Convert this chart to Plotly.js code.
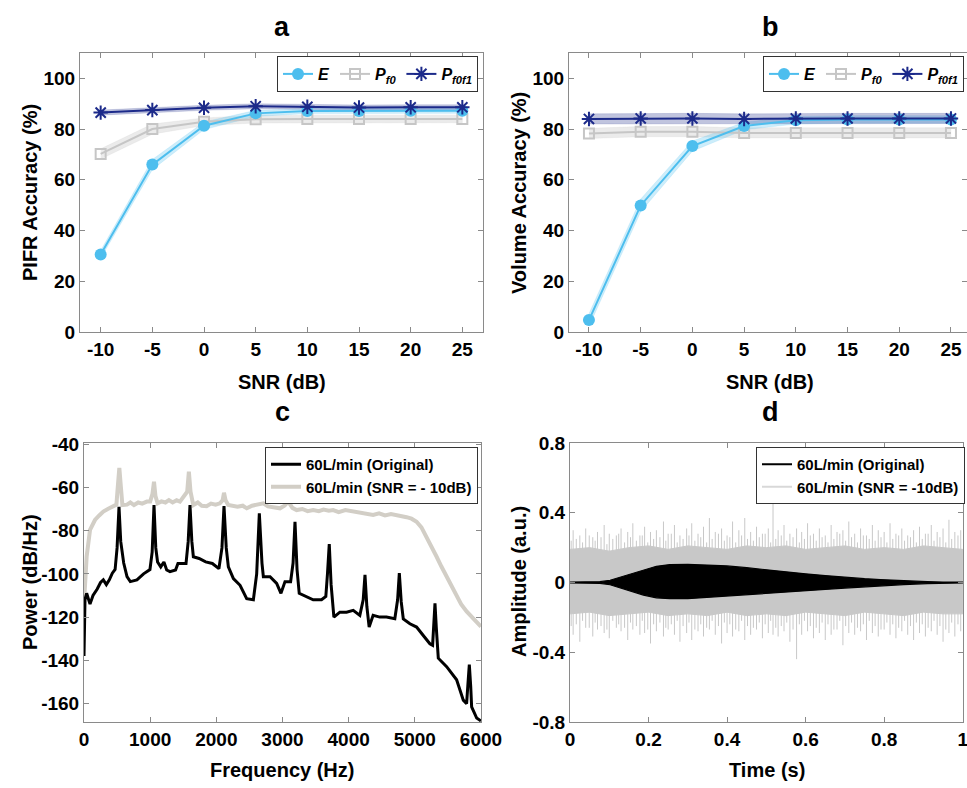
<!DOCTYPE html>
<html>
<head>
<meta charset="utf-8">
<script src="https://cdn.plot.ly/plotly-3.0.1.min.js"></script>
<style>html,body{margin:0;padding:0;background:#fff;}#chart{width:967px;height:788px;}</style>
</head>
<body>
<div id="chart"></div>
<script>
// ---------- Panel a / b data ----------
const snr = [-10, -5, 0, 5, 10, 15, 20, 25];
const snrTickLabels = ['-10', '-5', '0', '5', '10', '15', '20', '25'];
const accTicks = [0, 20, 40, 60, 80, 100];

const pifrE      = [30.6, 66.0, 81.3, 86.2, 87.1, 87.1, 87.2, 87.2];
const pifrEStd   = [1.5, 2.0, 1.5, 1.2, 1.0, 1.0, 1.0, 1.0];
const pifrPf0    = [70.2, 80.0, 82.9, 83.9, 84.0, 84.0, 84.0, 84.0];
const pifrPf0Std = [2.0, 2.0, 1.5, 1.5, 1.5, 1.5, 1.5, 1.5];
const pifrPf0f1  = [86.5, 87.5, 88.4, 89.0, 88.8, 88.5, 88.6, 88.6];
const pifrPf0f1Std = [1.0, 1.0, 1.0, 1.0, 1.0, 1.0, 1.0, 1.0];

const volE      = [4.7, 49.9, 73.3, 81.2, 83.5, 83.8, 83.8, 83.8];
const volEStd   = [2.5, 2.5, 2.0, 1.5, 1.5, 1.5, 1.5, 1.5];
const volPf0    = [78.3, 79.0, 79.0, 78.5, 78.5, 78.5, 78.5, 78.5];
const volPf0Std = [2.0, 2.0, 2.0, 2.0, 2.0, 2.0, 2.0, 2.0];
const volPf0f1  = [84.0, 84.2, 84.2, 84.0, 84.2, 84.2, 84.2, 84.2];
const volPf0f1Std = [2.0, 2.0, 2.0, 2.0, 2.0, 2.0, 2.0, 2.0];

// ---------- Panel c data ----------
const freqOrig = [0, 15, 40, 91, 136, 200, 250, 292, 338, 383, 428, 470, 500, 529, 555, 600, 650, 700, 800, 900, 997, 1030, 1058, 1085, 1112, 1160, 1208, 1250, 1300, 1384, 1420, 1542, 1575, 1602, 1630, 1653, 1740, 1839, 1940, 2039, 2085, 2116, 2150, 2182, 2258, 2359, 2459, 2560, 2610, 2650, 2690, 2711, 2812, 2912, 2977, 3038, 3123, 3160, 3189, 3220, 3253, 3364, 3464, 3590, 3655, 3680, 3707, 3735, 3777, 3867, 3968, 4069, 4169, 4220, 4247, 4275, 4310, 4370, 4471, 4572, 4698, 4740, 4766, 4795, 4826, 4926, 5027, 5128, 5228, 5269, 5290, 5305, 5325, 5355, 5481, 5632, 5733, 5783, 5805, 5824, 5845, 5859, 5935, 6000];
const powerOrig = [-138, -112, -109, -114, -110, -107, -104, -102.8, -105, -102.8, -99.7, -98, -88, -69, -85, -95, -101.3, -103.6, -102.8, -100, -98, -90, -68.2, -88, -94.5, -96.8, -94.5, -98.2, -99, -98.2, -95.2, -95.2, -85, -68.2, -85, -92.1, -92.9, -94.5, -95.2, -97.6, -88, -68.7, -88, -96.8, -102.2, -105.3, -111.5, -112, -100, -72, -95, -101.3, -101.3, -104.4, -109, -103.6, -103.6, -95, -75.9, -98, -109, -110.5, -112, -112, -110.5, -100, -86.2, -105, -120, -117.7, -117.7, -116.9, -119.2, -112, -100.5, -115, -124.6, -119.2, -120, -120, -120.8, -112, -99.7, -113, -120.8, -123.1, -124.6, -128.5, -132.3, -133, -120, -113.6, -125, -139, -142.9, -149, -158.4, -160, -150, -142, -152, -161.5, -166.7, -168];

const freqNoisy = [0, 20, 40, 91, 166, 230, 292, 360, 443, 490, 510, 534, 558, 580, 650, 700, 755, 820, 880, 950, 1000, 1035, 1058, 1080, 1112, 1170, 1230, 1283, 1340, 1400, 1450, 1560, 1585, 1610, 1652, 1720, 1780, 1853, 1920, 1990, 2054, 2095, 2116, 2140, 2180, 2250, 2320, 2400, 2460, 2540, 2620, 2711, 2780, 2860, 2962, 3030, 3088, 3150, 3214, 3300, 3380, 3464, 3550, 3620, 3700, 3766, 3850, 3950, 4069, 4150, 4250, 4370, 4460, 4550, 4640, 4723, 4800, 4876, 4950, 5027, 5100, 5178, 5250, 5330, 5400, 5481, 5560, 5632, 5700, 5783, 5880, 6000];
const powerNoisy = [-113.6, -100, -92, -79.7, -75.1, -73, -71.2, -70, -69, -68, -60, -51, -60, -68.2, -68, -67, -68.2, -67, -67.5, -66.6, -66.6, -63, -57.4, -64, -67.4, -66.5, -67, -65.9, -67, -66, -66.6, -62, -52.8, -62, -68.2, -67, -68.5, -68.7, -67.5, -68, -67.4, -66, -62.5, -66, -68.2, -68.5, -69, -68.5, -69.7, -68.5, -68, -67.4, -68.8, -69, -69.7, -68.5, -66.6, -69.5, -70.5, -70, -71, -70.5, -71, -70.3, -70.8, -70.5, -71.5, -70.5, -71.2, -71.5, -72, -72.8, -72, -73, -72.4, -72.8, -73, -73.8, -74.5, -75.9, -78.5, -82.8, -87, -92.1, -96.5, -101.3, -106, -110.5, -114, -117.4, -120.5, -124.4];

const freqTicks = [0, 1000, 2000, 3000, 4000, 5000, 6000];
const powerTicks = [-160, -140, -120, -100, -80, -60, -40];
const powerTickLabels = ['-160', '-140', '-120', '-100', '-80', '-60', '-40'];

// ---------- Panel d data ----------
const origTime  = [0, 0.05, 0.076, 0.102, 0.144, 0.187, 0.22, 0.254, 0.3, 0.35, 0.4, 0.45, 0.5, 0.55, 0.6, 0.65, 0.7, 0.75, 0.79, 0.85, 0.91, 0.95, 1.0];
const origUpper = [0.003, 0.003, 0.005, 0.013, 0.042, 0.074, 0.093, 0.103, 0.104, 0.1, 0.095, 0.085, 0.072, 0.06, 0.05, 0.04, 0.03, 0.022, 0.017, 0.01, 0.005, 0.003, 0.003];
const origLower = [-0.003, -0.003, -0.005, -0.013, -0.04, -0.072, -0.088, -0.093, -0.093, -0.085, -0.075, -0.07, -0.063, -0.055, -0.047, -0.04, -0.032, -0.025, -0.019, -0.012, -0.006, -0.003, -0.003];

const noiseCoreTime  = [0, 0.05, 0.1, 0.15, 0.2, 0.25, 0.3, 0.35, 0.4, 0.45, 0.5, 0.55, 0.6, 0.65, 0.7, 0.75, 0.8, 0.85, 0.9, 0.95, 1.0];
const noiseCoreUpper = [0.19, 0.2, 0.18, 0.2, 0.21, 0.19, 0.21, 0.2, 0.19, 0.21, 0.2, 0.21, 0.19, 0.2, 0.21, 0.19, 0.2, 0.19, 0.21, 0.2, 0.19];
const noiseCoreLower = [-0.18, -0.17, -0.19, -0.18, -0.17, -0.19, -0.18, -0.19, -0.17, -0.19, -0.18, -0.19, -0.17, -0.18, -0.19, -0.17, -0.18, -0.19, -0.17, -0.18, -0.18];

const spikeTime  = [0.008, 0.025, 0.04, 0.058, 0.07, 0.087, 0.1, 0.118, 0.13, 0.147, 0.16, 0.178, 0.19, 0.205, 0.22, 0.238, 0.25, 0.266, 0.28, 0.297, 0.31, 0.326, 0.34, 0.355, 0.37, 0.386, 0.4, 0.414, 0.43, 0.445, 0.46, 0.475, 0.49, 0.505, 0.517, 0.53, 0.545, 0.56, 0.577, 0.59, 0.605, 0.62, 0.635, 0.65, 0.665, 0.68, 0.695, 0.71, 0.725, 0.74, 0.755, 0.77, 0.785, 0.8, 0.815, 0.83, 0.845, 0.86, 0.875, 0.89, 0.905, 0.92, 0.935, 0.95, 0.965, 0.98, 0.995];
const spikeUpper = [0.30, 0.27, 0.31, 0.26, 0.29, 0.33, 0.28, 0.27, 0.31, 0.29, 0.34, 0.27, 0.32, 0.29, 0.30, 0.35, 0.28, 0.33, 0.27, 0.31, 0.34, 0.28, 0.32, 0.37, 0.29, 0.31, 0.27, 0.35, 0.30, 0.37, 0.29, 0.32, 0.28, 0.31, 0.51, 0.30, 0.33, 0.28, 0.31, 0.29, 0.34, 0.28, 0.31, 0.27, 0.33, 0.29, 0.30, 0.35, 0.28, 0.31, 0.27, 0.33, 0.30, 0.29, 0.34, 0.28, 0.31, 0.27, 0.30, 0.32, 0.28, 0.33, 0.29, 0.31, 0.36, 0.29, 0.30];
const spikeLower = [-0.30, -0.34, -0.26, -0.31, -0.27, -0.29, -0.32, -0.26, -0.28, -0.33, -0.27, -0.30, -0.29, -0.35, -0.28, -0.31, -0.27, -0.30, -0.34, -0.29, -0.33, -0.28, -0.31, -0.27, -0.30, -0.35, -0.29, -0.31, -0.28, -0.33, -0.30, -0.27, -0.32, -0.29, -0.30, -0.31, -0.28, -0.34, -0.44, -0.30, -0.28, -0.32, -0.29, -0.33, -0.30, -0.27, -0.36, -0.29, -0.30, -0.28, -0.33, -0.29, -0.31, -0.27, -0.30, -0.32, -0.28, -0.30, -0.33, -0.29, -0.31, -0.28, -0.30, -0.34, -0.29, -0.31, -0.28];

const spikeTime2  = [0.003, 0.016, 0.032, 0.049, 0.064, 0.079, 0.094, 0.109, 0.124, 0.139, 0.154, 0.169, 0.184, 0.198, 0.213, 0.229, 0.244, 0.258, 0.273, 0.288, 0.303, 0.318, 0.333, 0.348, 0.362, 0.378, 0.393, 0.407, 0.422, 0.437, 0.452, 0.467, 0.482, 0.497, 0.511, 0.524, 0.538, 0.552, 0.568, 0.584, 0.597, 0.612, 0.627, 0.642, 0.657, 0.672, 0.687, 0.702, 0.717, 0.732, 0.747, 0.762, 0.777, 0.792, 0.807, 0.822, 0.837, 0.852, 0.867, 0.882, 0.897, 0.912, 0.927, 0.942, 0.957, 0.972, 0.988];
const spikeUpper2 = [0.24, 0.25, 0.23, 0.27, 0.24, 0.26, 0.22, 0.25, 0.28, 0.23, 0.26, 0.24, 0.27, 0.23, 0.25, 0.26, 0.24, 0.28, 0.23, 0.25, 0.27, 0.24, 0.26, 0.23, 0.25, 0.28, 0.24, 0.26, 0.23, 0.27, 0.25, 0.24, 0.26, 0.28, 0.23, 0.25, 0.27, 0.24, 0.26, 0.23, 0.25, 0.27, 0.24, 0.26, 0.23, 0.25, 0.28, 0.24, 0.26, 0.23, 0.27, 0.25, 0.24, 0.26, 0.23, 0.25, 0.27, 0.24, 0.26, 0.23, 0.25, 0.28, 0.24, 0.26, 0.23, 0.25, 0.27];
const spikeLower2 = [-0.25, -0.24, -0.22, -0.26, -0.23, -0.25, -0.27, -0.22, -0.24, -0.26, -0.23, -0.25, -0.22, -0.27, -0.24, -0.23, -0.26, -0.24, -0.22, -0.25, -0.23, -0.27, -0.24, -0.26, -0.22, -0.25, -0.23, -0.24, -0.27, -0.22, -0.25, -0.26, -0.23, -0.24, -0.22, -0.26, -0.25, -0.23, -0.27, -0.24, -0.22, -0.25, -0.26, -0.23, -0.24, -0.27, -0.22, -0.25, -0.23, -0.26, -0.24, -0.22, -0.25, -0.27, -0.23, -0.24, -0.26, -0.22, -0.25, -0.23, -0.24, -0.26, -0.22, -0.25, -0.27, -0.23, -0.24];

const timeTicks = [0, 0.2, 0.4, 0.6, 0.8, 1];
const timeTickLabels = ['0', '0.2', '0.4', '0.6', '0.8', '1'];
const ampTicks = [-0.8, -0.4, 0, 0.4, 0.8];
const ampTickLabels = ['-0.8', '-0.4', '0', '0.4', '0.8'];

// ---------- Styles ----------
const FONT = 'Liberation Sans, Arial, sans-serif';
const cE = '#4dbeee', cP0 = '#c6c6c6', cP01 = '#1c2a8a';
const bandE = 'rgba(77,190,238,0.28)', bandP0 = 'rgba(198,198,198,0.35)', bandP01 = 'rgba(28,42,138,0.28)';
const cOrig = '#000000', cNoisySpec = '#d2cec6', cNoise = '#c8c8c8';

function band(x, m, s, xa, ya, fc) {
  const up = m.map((v, i) => v + s[i]);
  const lo = m.map((v, i) => v - s[i]);
  return {x: x.concat(x.slice().reverse()), y: up.concat(lo.slice().reverse()),
    xaxis: xa, yaxis: ya, type: 'scatter', mode: 'lines', fill: 'toself',
    fillcolor: fc, line: {width: 0.5, color: fc}, showlegend: false, hoverinfo: 'skip'};
}
function series(x, y, name, color, sym, size, xa, ya, lg, filled) {
  return {x: x, y: y, name: name, xaxis: xa, yaxis: ya, type: 'scatter', mode: 'lines+markers',
    line: {color: color, width: 2},
    marker: {symbol: sym, size: size, color: color, line: {color: color, width: filled ? 0 : 2}},
    legend: lg};
}
function spikes(t, up, lo) {
  const sx = [], sy = [];
  const n = Math.min(t.length, up.length, lo.length);
  for (let i = 0; i < n; i++) { sx.push(t[i], t[i], null); sy.push(lo[i], up[i], null); }
  return {x: sx, y: sy, xaxis: 'x4', yaxis: 'y4', type: 'scatter', mode: 'lines',
    line: {color: cNoise, width: 1}, showlegend: false, hoverinfo: 'skip'};
}

const traces = [];
// Panel a
traces.push(band(snr, pifrPf0, pifrPf0Std, 'x', 'y', bandP0));
traces.push(band(snr, pifrE, pifrEStd, 'x', 'y', bandE));
traces.push(band(snr, pifrPf0f1, pifrPf0f1Std, 'x', 'y', bandP01));
traces.push(Object.assign(series(snr, pifrPf0, '<b><i>P<sub>f0</sub></i></b>', cP0, 'square-open', 10, 'x', 'y', 'legend', false), {legendrank: 2}));
traces.push(Object.assign(series(snr, pifrE, '<b><i>E</i></b>', cE, 'circle', 12, 'x', 'y', 'legend', true), {legendrank: 1}));
traces.push(Object.assign(series(snr, pifrPf0f1, '<b><i>P<sub>f0f1</sub></i></b>', cP01, 'asterisk-open', 12, 'x', 'y', 'legend', false), {legendrank: 3}));
// Panel b
traces.push(band(snr, volPf0, volPf0Std, 'x2', 'y2', bandP0));
traces.push(band(snr, volE, volEStd, 'x2', 'y2', bandE));
traces.push(band(snr, volPf0f1, volPf0f1Std, 'x2', 'y2', bandP01));
traces.push(Object.assign(series(snr, volPf0, '<b><i>P<sub>f0</sub></i></b>', cP0, 'square-open', 10, 'x2', 'y2', 'legend2', false), {legendrank: 2}));
traces.push(Object.assign(series(snr, volE, '<b><i>E</i></b>', cE, 'circle', 12, 'x2', 'y2', 'legend2', true), {legendrank: 1}));
traces.push(Object.assign(series(snr, volPf0f1, '<b><i>P<sub>f0f1</sub></i></b>', cP01, 'asterisk-open', 12, 'x2', 'y2', 'legend2', false), {legendrank: 3}));
// Panel c
traces.push({x: freqNoisy, y: powerNoisy, xaxis: 'x3', yaxis: 'y3', type: 'scatter', mode: 'lines',
  name: '<b>60L/min (SNR = - 10dB)</b>', line: {color: cNoisySpec, width: 4}, legend: 'legend3', legendrank: 2});
traces.push({x: freqOrig, y: powerOrig, xaxis: 'x3', yaxis: 'y3', type: 'scatter', mode: 'lines',
  name: '<b>60L/min (Original)</b>', line: {color: cOrig, width: 3}, legend: 'legend3', legendrank: 1});
// Panel d
traces.push(spikes(spikeTime, spikeUpper, spikeLower));
traces.push(spikes(spikeTime2, spikeUpper2, spikeLower2));
traces.push({x: noiseCoreTime.concat(noiseCoreTime.slice().reverse()),
  y: noiseCoreUpper.concat(noiseCoreLower.slice().reverse()), xaxis: 'x4', yaxis: 'y4',
  type: 'scatter', mode: 'lines', fill: 'toself', fillcolor: cNoise, line: {color: cNoise, width: 1},
  showlegend: false, hoverinfo: 'skip'});
traces.push({x: origTime.concat(origTime.slice().reverse()),
  y: origUpper.concat(origLower.slice().reverse()), xaxis: 'x4', yaxis: 'y4',
  type: 'scatter', mode: 'lines', fill: 'toself', fillcolor: cOrig, line: {color: cOrig, width: 1.2},
  showlegend: false, hoverinfo: 'skip'});
traces.push({x: [null], y: [null], xaxis: 'x4', yaxis: 'y4', type: 'scatter', mode: 'lines',
  name: '<b>60L/min (Original)</b>', line: {color: cOrig, width: 2}, legend: 'legend4', legendrank: 1});
traces.push({x: [null], y: [null], xaxis: 'x4', yaxis: 'y4', type: 'scatter', mode: 'lines',
  name: '<b>60L/min (SNR = -10dB)</b>', line: {color: '#d8d8d8', width: 2}, legend: 'legend4', legendrank: 2});

const W = 967, H = 788;
const px = v => v / W, py = v => 1 - v / H;
const axisBase = {showline: true, linecolor: '#8a8a8a', linewidth: 1, mirror: 'ticks', ticks: 'inside',
  ticklen: 5, tickcolor: '#8a8a8a', showgrid: false, zeroline: false, ticklabeloverflow: 'allow',
  tickfont: {family: FONT, size: 19, color: '#000', weight: 'bold'}};
const ax = o => Object.assign({}, axisBase, o);

const legendBase = {bgcolor: '#ffffff', bordercolor: '#333333', borderwidth: 1,
  font: {family: FONT, size: 15, color: '#000'}, xref: 'paper', yref: 'paper',
  xanchor: 'right', yanchor: 'top', tracegroupgap: 0};
const lg = o => Object.assign({}, legendBase, o);

function ann(text, x, y, size, angle) {
  return {text: '<b>' + text + '</b>', x: px(x), y: py(y), xref: 'paper', yref: 'paper',
    showarrow: false, xanchor: 'center', yanchor: 'middle', textangle: angle || 0,
    font: {family: FONT, size: size, color: '#000'}};
}

const layout = {
  width: W, height: H, paper_bgcolor: '#fff', plot_bgcolor: '#fff',
  margin: {l: 0, r: 0, t: 0, b: 0}, font: {family: FONT, color: '#000'}, showlegend: true,
  xaxis: ax({domain: [px(80), px(483)], range: [-12, 27], tickvals: snr, ticktext: snrTickLabels, anchor: 'y'}),
  yaxis: ax({domain: [py(332), py(53)], range: [0, 110], tickvals: accTicks, anchor: 'x'}),
  xaxis2: ax({domain: [px(569), 1], range: [-11.93, 26.55], tickvals: snr, ticktext: snrTickLabels, anchor: 'y2'}),
  yaxis2: ax({domain: [py(332), py(53)], range: [0, 110], tickvals: accTicks, anchor: 'x2'}),
  xaxis3: ax({domain: [px(84), px(481)], range: [0, 6000.5], tickvals: freqTicks, anchor: 'y3'}),
  yaxis3: ax({domain: [py(722), py(443)], range: [-168.5, -39.5], tickvals: powerTicks, ticktext: powerTickLabels, anchor: 'x3'}),
  xaxis4: ax({domain: [px(570), px(963)], range: [0, 1.0008], tickvals: timeTicks, ticktext: timeTickLabels, anchor: 'y4'}),
  yaxis4: ax({domain: [py(722), py(443)], range: [-0.8005, 0.8005], tickvals: ampTicks, ticktext: ampTickLabels, anchor: 'x4'}),
  legend: lg({orientation: 'h', x: px(478), y: py(56), font: {family: FONT, size: 16, color: '#000'}, itemwidth: 30}),
  legend2: lg({orientation: 'h', x: px(964), y: py(56), font: {family: FONT, size: 16, color: '#000'}, itemwidth: 30}),
  legend3: lg({orientation: 'v', x: px(478), y: py(447), itemwidth: 30}),
  legend4: lg({orientation: 'v', x: px(965), y: py(447), itemwidth: 30}),
  annotations: [
    ann('a', 282, 27, 27), ann('b', 770, 27, 27), ann('c', 282, 412, 27), ann('d', 770, 412, 27),
    ann('PIFR Accuracy (%)', 30, 193, 20, -90), ann('Volume Accuracy (%)', 519, 193, 20, -90),
    ann('SNR (dB)', 282, 382, 20), ann('SNR (dB)', 770, 382, 20),
    ann('Power (dB/Hz)', 30, 582, 20, -90), ann('Amplitude (a.u.)', 519, 582, 20, -90),
    ann('Frequency (Hz)', 282, 770, 20), ann('Time (s)', 767, 770, 20)
  ]
};

Plotly.newPlot('chart', traces, layout, {staticPlot: true, displayModeBar: false});
</script>
</body>
</html>
